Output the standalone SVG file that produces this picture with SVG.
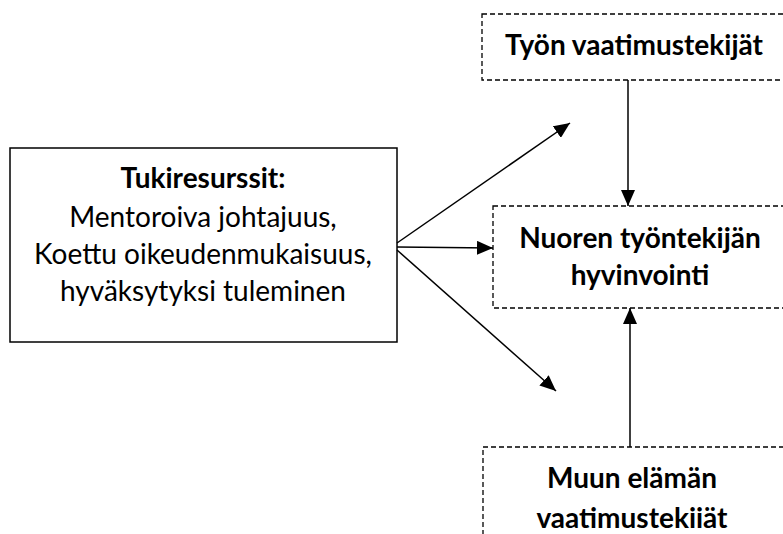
<svg xmlns="http://www.w3.org/2000/svg" width="783" height="534" viewBox="0 0 783 534">
<style>
.solid{fill:#fff;stroke:#000;stroke-width:1.5}
.dash{fill:#fff;stroke:#000;stroke-width:1.3;stroke-dasharray:5 3}
.t{font-family:Lato,"Noto Sans",sans-serif;font-size:28px;fill:#000;text-anchor:middle}
.b{font-weight:bold}
.c{stroke:#000;stroke-width:1.5;fill:none}
</style>
<defs>
<marker id="ah" viewBox="0 0 16 14" refX="16" refY="7" markerWidth="16" markerHeight="14" markerUnits="userSpaceOnUse" orient="auto">
<path d="M0,0 L16,7 L0,14 Z" fill="#000"/>
</marker>
</defs>
<g id="tyon">
<rect class="dash" x="482" y="14" width="320" height="66"/>
<text class="t b" x="634" y="55">Työn vaatimustekijät</text>
</g>
<g id="tuki">
<rect class="solid" x="10" y="148" width="387" height="194"/>
<text class="t b" x="203" y="188">Tukiresurssit:</text>
<text class="t" x="203" y="227">Mentoroiva johtajuus,</text>
<text class="t" x="203" y="264">Koettu oikeudenmukaisuus,</text>
<text class="t" x="203" y="301">hyväksytyksi tuleminen</text>
</g>
<g id="hyvinvointi">
<rect class="dash" x="493" y="206" width="320" height="102"/>
<text class="t b" x="640" y="248">Nuoren työntekijän</text>
<text class="t b" x="640" y="285">hyvinvointi</text>
</g>
<g id="muun">
<rect class="dash" x="483" y="447" width="320" height="120"/>
<text class="t b" x="632" y="488">Muun elämän</text>
<text class="t b" x="632" y="528">vaatimustekiiät</text>
</g>
<g id="connectors">
<line class="c" x1="628" y1="80" x2="628" y2="206" marker-end="url(#ah)"/>
<line class="c" x1="630" y1="447" x2="630" y2="308" marker-end="url(#ah)"/>
<line class="c" x1="397" y1="243" x2="570" y2="123" marker-end="url(#ah)"/>
<line class="c" x1="397" y1="247" x2="493" y2="248" marker-end="url(#ah)"/>
<line class="c" x1="397" y1="250" x2="556" y2="391" marker-end="url(#ah)"/>
</g>
</svg>
